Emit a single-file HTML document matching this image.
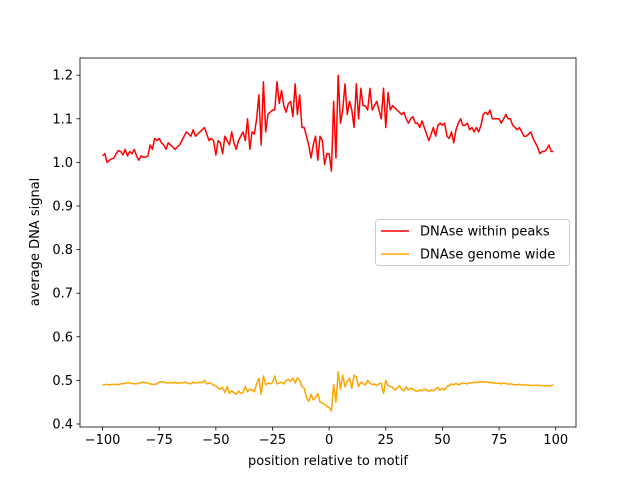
<!DOCTYPE html>
<html><head><meta charset="utf-8"><style>
html,body{margin:0;padding:0;background:#fff;}
svg{display:block;font-family:"DejaVu Sans","Liberation Sans",sans-serif;}
</style></head><body>
<svg id="chart" width="640" height="480" viewBox="0 0 640 480">
<rect x="0" y="0" width="640" height="480" fill="#fff"/>
<g id="plot"></g>
</svg>
<script>
const positions = [];
for (let i = -100; i <= 99; i++) positions.push(i);
const peaksSignal = [
1.015,1.02,1.00,1.005,1.008,1.01,1.02,1.027,1.025,1.017,
1.03,1.015,1.025,1.02,1.03,1.015,1.005,1.015,1.012,1.012,
1.015,1.04,1.03,1.055,1.05,1.055,1.045,1.04,1.03,1.045,
1.04,1.035,1.03,1.035,1.04,1.05,1.06,1.07,1.065,1.06,
1.075,1.06,1.065,1.07,1.075,1.08,1.065,1.05,1.055,1.05,
1.017,1.05,1.045,1.02,1.06,1.05,1.04,1.07,1.045,1.03,
1.05,1.06,1.07,1.05,1.10,1.03,1.07,1.065,1.10,1.155,
1.04,1.185,1.07,1.11,1.115,1.12,1.12,1.185,1.135,1.165,
1.13,1.115,1.135,1.14,1.105,1.18,1.11,1.155,1.08,1.08,
1.06,1.04,1.01,1.04,1.06,1.005,1.06,1.05,0.995,1.02,
1.02,0.98,1.14,1.01,1.20,1.09,1.12,1.18,1.11,1.14,
1.12,1.08,1.18,1.10,1.17,1.13,1.13,1.12,1.17,1.12,
1.13,1.14,1.12,1.10,1.17,1.08,1.16,1.12,1.13,1.125,
1.12,1.115,1.11,1.115,1.10,1.09,1.10,1.105,1.09,1.09,
1.08,1.095,1.08,1.065,1.05,1.065,1.08,1.06,1.085,1.09,
1.085,1.09,1.06,1.055,1.07,1.045,1.075,1.09,1.10,1.085,
1.085,1.09,1.075,1.08,1.07,1.08,1.07,1.085,1.11,1.115,
1.11,1.12,1.10,1.10,1.10,1.10,1.09,1.10,1.11,1.10,
1.10,1.085,1.08,1.075,1.08,1.07,1.06,1.06,1.065,1.07,
1.055,1.045,1.035,1.02,1.025,1.025,1.03,1.04,1.025,1.025];
const genomeSignal = [
.490,.490,.491,.490,.491,.491,.491,.490,.492,.493,
.493,.495,.494,.493,.492,.492,.494,.495,.496,.495,
.494,.492,.491,.491,.492,.496,.497,.496,.495,.494,
.495,.494,.496,.493,.495,.494,.496,.495,.493,.492,
.496,.494,.495,.496,.495,.500,.492,.494,.493,.489,
.488,.482,.480,.484,.472,.486,.470,.476,.472,.468,
.476,.470,.472,.486,.474,.480,.478,.474,.492,.505,
.468,.510,.490,.494,.492,.495,.510,.492,.494,.496,
.492,.500,.502,.498,.505,.494,.506,.500,.486,.482,
.460,.452,.468,.455,.460,.470,.450,.448,.445,.440,
.438,.430,.490,.450,.520,.480,.512,.485,.498,.505,
.482,.512,.508,.486,.496,.492,.490,.500,.494,.490,
.492,.488,.492,.494,.470,.500,.488,.486,.484,.478,
.482,.488,.480,.476,.485,.478,.482,.480,.476,.475,
.478,.476,.480,.478,.475,.478,.476,.480,.484,.477,
.482,.478,.486,.488,.492,.490,.493,.490,.492,.494,
.493,.492,.495,.494,.496,.495,.497,.496,.497,.496,
.496,.495,.495,.494,.493,.494,.492,.494,.493,.491,
.492,.491,.490,.490,.491,.490,.489,.490,.489,.489,
.488,.489,.489,.488,.488,.487,.488,.487,.488,.490];
const xTicks = [-100,-75,-50,-25,0,25,50,75,100];
const yTicks = [0.4,0.5,0.6,0.7,0.8,0.9,1.0,1.1,1.2];
const seriesNames = ["DNAse within peaks","DNAse genome wide"];
const seriesColors = ["#ff0000","#ffa500"];

const NS = "http://www.w3.org/2000/svg";
const L=80,R=576,T=58,B=427;
const xMin=-109.95,xMax=108.95;
const yPerUnit=436;
function xs(v){return L+(v-xMin)/(xMax-xMin)*(R-L);}
function ys(v){return 424-(v-0.4)*yPerUnit;}
const g=document.getElementById('plot');
function mk(tag,attrs){const e=document.createElementNS(NS,tag);for(const k in attrs)e.setAttribute(k,attrs[k]);return e;}

const series=[peaksSignal,genomeSignal];
series.forEach((vals,si)=>{
  const d=vals.map((v,i)=>(i?'L':'M')+xs(positions[i]).toFixed(2)+','+ys(v).toFixed(2)).join('');
  const p=mk('path',{d:d,fill:'none',stroke:seriesColors[si],'stroke-width':1.5,'stroke-linejoin':'round'});
  
  
  g.appendChild(p);
});

const frame=mk('rect',{x:L,y:T,width:R-L,height:B-T,fill:'none',stroke:'#000','stroke-width':0.8});


g.appendChild(frame);

xTicks.forEach(t=>{
  const x=xs(t);
  const tk=mk('line',{x1:x,x2:x,y1:B,y2:B+3.5,stroke:'#000','stroke-width':0.8});
  
  
  g.appendChild(tk);
  const tx=mk('text',{x:x,y:B+17,'font-size':13,'text-anchor':'middle',fill:'#000'});
  tx.textContent=(t<0?'\u2212'+(-t):t);
  
  
  g.appendChild(tx);
});
yTicks.forEach(t=>{
  const y=ys(t);
  const tk=mk('line',{x1:L-3.5,x2:L,y1:y,y2:y,stroke:'#000','stroke-width':0.8});
  
  
  g.appendChild(tk);
  const tx=mk('text',{x:L-7,y:y+4.5,'font-size':13,'text-anchor':'end',fill:'#000'});
  tx.textContent=t.toFixed(1);
  
  
  g.appendChild(tx);
});
const xl=mk('text',{x:(L+R)/2,y:465,'font-size':13,'text-anchor':'middle',fill:'#000'});
xl.textContent='position relative to motif';


g.appendChild(xl);
const yl=mk('text',{x:0,y:0,'font-size':13,'text-anchor':'middle',fill:'#000',transform:'translate(39,242) rotate(-90)'});
yl.textContent='average DNA signal';


g.appendChild(yl);

const lg=mk('g',{});


g.appendChild(lg);
const lb=mk('rect',{x:375.5,y:219.5,width:194,height:46,rx:3,fill:'#fff','fill-opacity':0.8,stroke:'#ccc','stroke-width':1});


lg.appendChild(lb);
seriesNames.forEach((n,i)=>{
  const y=231+i*23;
  const ln=mk('line',{x1:381,x2:409,y1:y,y2:y,stroke:seriesColors[i],'stroke-width':1.5});
  
  
  lg.appendChild(ln);
  const tx=mk('text',{x:420,y:y+4.5,'font-size':13,fill:'#000'});
  tx.textContent=n;
  
  
  lg.appendChild(tx);
});
</script>
</body></html>
